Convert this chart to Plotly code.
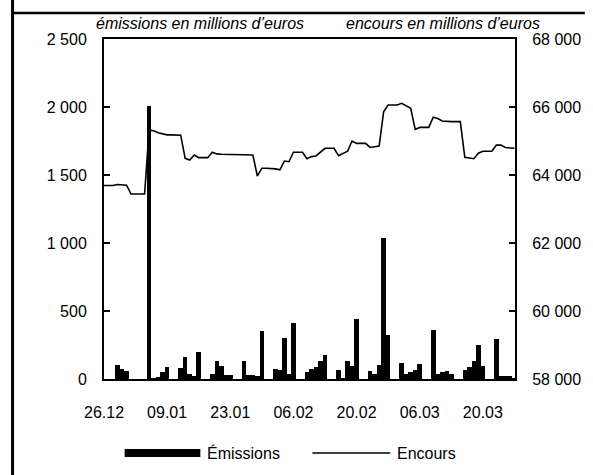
import pandas as pd
import plotly.graph_objects as go

# Émissions, millions d'euros, one value per business day (29.12.2008 - 27.03.2009)
emission_dates = pd.bdate_range("2008-12-29", "2009-03-27")
emissions = [
    100, 70, 60, 0, 0,
    2010, 5, 12, 55, 90,
    80, 165, 35, 25, 200,
    35, 130, 95, 30, 30,
    130, 30, 30, 25, 350,
    70, 65, 305, 35, 410,
    50, 70, 85, 130, 175,
    65, 5, 135, 95, 440,
    60, 40, 100, 1040, 320,
    115, 40, 50, 65, 108,
    360, 37, 54, 61, 37,
    66, 86, 132, 248, 93,
    292, 25, 25, 22, 5,
]

# Encours, millions d'euros, one value per calendar day (26.12.2008 - 27.03.2009)
encours_dates = pd.date_range("2008-12-26", "2009-03-27")
encours = [
    63690, 63690, 63690,                                   # 26.12 - 28.12
    63720, 63720, 63700, 63440, 63440, 63440, 63440,       # 29.12 - 04.01
    65320, 65300, 65240, 65200, 65180, 65180, 65180,       # 05.01 - 11.01
    65170, 64490, 64440, 64590, 64510, 64510, 64510,       # 12.01 - 18.01
    64670, 64620, 64610, 64610, 64600, 64600, 64600,       # 19.01 - 25.01
    64590, 64590, 64590, 63970, 64200, 64200, 64200,       # 26.01 - 01.02
    64180, 64150, 64410, 64390, 64670, 64670, 64670,       # 02.02 - 08.02
    64480, 64540, 64560, 64680, 64785, 64785, 64785,       # 09.02 - 15.02
    64570, 64630, 64700, 65000, 64930, 64930, 64930,       # 16.02 - 22.02
    64810, 64830, 64850, 65860, 66060, 66060, 66060,       # 23.02 - 01.03
    66110, 66040, 65960, 65340, 65400, 65400, 65400,       # 02.03 - 08.03
    65700, 65660, 65590, 65570, 65570, 65570, 65570,       # 09.03 - 15.03
    64520, 64510, 64480, 64640, 64700, 64700, 64700,       # 16.03 - 22.03
    64880, 64880, 64810, 64790, 64785,                     # 23.03 - 27.03
]

left_ticks = [0, 500, 1000, 1500, 2000, 2500]
left_labels = ["0", "500", "1 000", "1 500", "2 000", "2 500"]
right_ticks = [58000, 60000, 62000, 64000, 66000, 68000]
right_labels = ["58 000", "60 000", "62 000", "64 000", "66 000", "68 000"]
date_ticks = pd.date_range("2008-12-26", periods=7, freq="14D")

W, H = 593, 475
L, R, T, B = 104, 71, 39, 96
FONT = "Liberation Sans, Arial, sans-serif"


def px(x):
    return (x - L) / (W - L - R)


def py(y):
    return (H - B - y) / (H - T - B)


fig = go.Figure()
fig.add_trace(go.Bar(
    x=emission_dates, y=emissions, name="Émissions",
    width=86400000, marker=dict(color="black", line=dict(width=0)),
    yaxis="y",
))
fig.add_trace(go.Scatter(
    x=encours_dates, y=encours, name="Encours", mode="lines",
    line=dict(color="black", width=1.6), yaxis="y2",
))

axis_common = dict(showgrid=False, zeroline=False, showline=True,
                   linecolor="black", linewidth=2,
                   tickfont=dict(family=FONT, size=16, color="black"))

fig.update_layout(
    width=W, height=H,
    margin=dict(l=L, r=R, t=T, b=B, pad=0),
    paper_bgcolor="white", plot_bgcolor="white",
    showlegend=False, bargap=0,
    font=dict(family=FONT, size=16, color="black"),
    xaxis=dict(**axis_common, type="date",
               range=["2008-12-26", "2009-03-27 03:00"],
               tickvals=date_ticks, tickformat="%d.%m", ticks="",
               mirror=True, ticklabelstandoff=18),
    yaxis=dict(**axis_common, range=[0, 2500], tickvals=left_ticks,
               ticktext=left_labels, ticks="inside", ticklen=6,
               tickwidth=1.5, tickcolor="black", ticklabelstandoff=12),
    yaxis2=dict(**axis_common, range=[58000, 68000], overlaying="y",
                side="right", tickvals=right_ticks, ticktext=right_labels,
                ticks="inside", ticklen=6, tickwidth=1.5, tickcolor="black",
                ticklabelstandoff=12),
)

shapes = [
    # outer frame
    dict(type="line", xref="paper", yref="paper", x0=px(11), x1=px(11),
         y0=py(0), y1=py(H), line=dict(color="black", width=3)),
    dict(type="line", xref="paper", yref="paper", x0=px(11), x1=px(W),
         y0=py(13), y1=py(13), line=dict(color="black", width=2.5)),
    # legend keys
    dict(type="rect", xref="paper", yref="paper", x0=px(125), x1=px(202),
         y0=py(457), y1=py(449), fillcolor="black", line=dict(width=0)),
    dict(type="line", xref="paper", yref="paper", x0=px(316), x1=px(395),
         y0=py(453), y1=py(453), line=dict(color="black", width=1.6)),
]

annotations = [
    dict(text="<i>émissions en millions d’euros</i>", x=px(202), y=py(24),
         xanchor="center", yanchor="middle"),
    dict(text="<i>encours en millions d’euros</i>", x=px(449), y=py(24),
         xanchor="center", yanchor="middle"),
    dict(text="Émissions", x=px(207), y=py(453), xanchor="left",
         yanchor="middle"),
    dict(text="Encours", x=px(400), y=py(453), xanchor="left",
         yanchor="middle"),
]
for a in annotations:
    a.update(xref="paper", yref="paper", showarrow=False,
             font=dict(family=FONT, size=16, color="black"))

fig.update_layout(shapes=shapes, annotations=annotations)

fig.write_html("out.html")
